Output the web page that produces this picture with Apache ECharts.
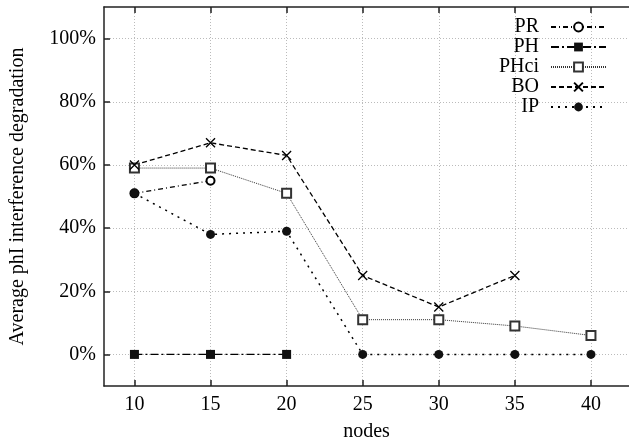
<!DOCTYPE html>
<html>
<head>
<meta charset="utf-8">
<script src="https://cdn.jsdelivr.net/npm/echarts@6/dist/echarts.min.js"></script>
<style>
  html, body { margin: 0; padding: 0; background: #fff; }
  #chart { width: 629px; height: 447px; }
</style>
</head>
<body>
<div id="chart"></div>
<script>
// data (nodes -> % degradation)
var xTicks = [10, 15, 20, 25, 30, 35, 40];
var yTicks = [0, 20, 40, 60, 80, 100];

var prNodes = [10, 15];
var prVals = [51, 55];
var phNodes = [10, 15, 20];
var phVals = [0, 0, 0];
var phciNodes = [10, 15, 20, 25, 30, 35, 40];
var phciVals = [59, 59, 51, 11, 11, 9, 6];
var boNodes = [10, 15, 20, 25, 30, 35];
var boVals = [60, 67, 63, 25, 15, 25];
var ipNodes = [10, 15, 20, 25, 30, 35, 40];
var ipVals = [51, 38, 39, 0, 0, 0, 0];

function pairs(xs, ys) {
  var out = [];
  for (var i = 0; i < xs.length; i++) out.push([xs[i], ys[i]]);
  return out;
}

var font = '"Liberation Serif", "DejaVu Serif", serif';
var cross = 'path://M0,0L10,10M10,0L0,10';

var myChart = echarts.init(document.getElementById('chart'));
var options = {
  animation: false,
  textStyle: { fontFamily: font, color: '#000' },
  grid: { left: 103, right: 0, top: 7, bottom: 59 },
  legend: {
    orient: 'vertical',
    right: 17,
    top: 12,
    align: 'right',
    itemWidth: 55,
    itemHeight: 11,
    itemGap: 0,
    textStyle: { fontFamily: font, fontSize: 20, lineHeight: 20, color: '#000', padding: [0, 7, 0, 0] },
    data: ['PR', 'PH', 'PHci', 'BO', 'IP']
  },
  xAxis: [
    {
      type: 'value',
      min: 8,
      max: 42.5,
      name: 'nodes',
      nameLocation: 'middle',
      nameGap: 36,
      nameTextStyle: { fontFamily: font, fontSize: 20, color: '#000' },
      axisLine: { show: true, onZero: false, lineStyle: { color: '#222', width: 1.5 } },
      axisTick: { show: true, inside: true, length: 6, customValues: xTicks, lineStyle: { color: '#222', width: 1.5 } },
      axisLabel: { customValues: xTicks, fontFamily: font, fontSize: 20, color: '#000', margin: 9 },
      splitLine: { show: true, lineStyle: { color: '#bbb', type: [1, 2], width: 1 } }
    },
    {
      type: 'value',
      position: 'top',
      min: 8,
      max: 42.5,
      axisLine: { show: true, onZero: false, lineStyle: { color: '#222', width: 1.5 } },
      axisTick: { show: true, inside: true, length: 6, customValues: xTicks, lineStyle: { color: '#222', width: 1.5 } },
      axisLabel: { show: false },
      splitLine: { show: false }
    }
  ],
  yAxis: {
    type: 'value',
    min: -10,
    max: 110,
    name: 'Average phI interference degradation',
    nameLocation: 'middle',
    nameGap: 76,
    nameTextStyle: { fontFamily: font, fontSize: 20, color: '#000' },
    axisLine: { show: true, onZero: false, lineStyle: { color: '#222', width: 1.5 } },
    axisTick: { show: true, inside: true, length: 6, customValues: yTicks, lineStyle: { color: '#222', width: 1.5 } },
    axisLabel: { customValues: yTicks, fontFamily: font, fontSize: 20, color: '#000', margin: 8, formatter: '{value}%' },
    splitLine: { show: true, lineStyle: { color: '#bbb', type: [1, 2], width: 1 } }
  },
  series: [
    {
      name: 'PR', type: 'line', data: pairs(prNodes, prVals),
      symbol: 'emptyCircle', symbolSize: 8,
      lineStyle: { color: '#000', width: 1.3, type: [5, 3, 1, 3] },
      itemStyle: { color: '#000', borderColor: '#000', borderWidth: 1.3 }
    },
    {
      name: 'PH', type: 'line', data: pairs(phNodes, phVals),
      symbol: 'rect', symbolSize: 9,
      lineStyle: { color: '#000', width: 1.3, type: [8, 3, 2, 3] },
      itemStyle: { color: '#111' }
    },
    {
      name: 'PHci', type: 'line', data: pairs(phciNodes, phciVals),
      symbol: 'emptyRect', symbolSize: 9,
      lineStyle: { color: '#333', width: 1, type: [1, 1] },
      itemStyle: { color: '#333', borderColor: '#333', borderWidth: 1.3 }
    },
    {
      name: 'BO', type: 'line', data: pairs(boNodes, boVals),
      symbol: cross, symbolSize: 9,
      lineStyle: { color: '#000', width: 1.3, type: [5, 3] },
      itemStyle: { color: '#000', borderColor: '#000', borderWidth: 1.3 }
    },
    {
      name: 'IP', type: 'line', data: pairs(ipNodes, ipVals),
      symbol: 'circle', symbolSize: 9,
      lineStyle: { color: '#000', width: 1.5, type: [2, 5] },
      itemStyle: { color: '#111' }
    }
  ]
};
myChart.setOption(options);
</script>
</body>
</html>
